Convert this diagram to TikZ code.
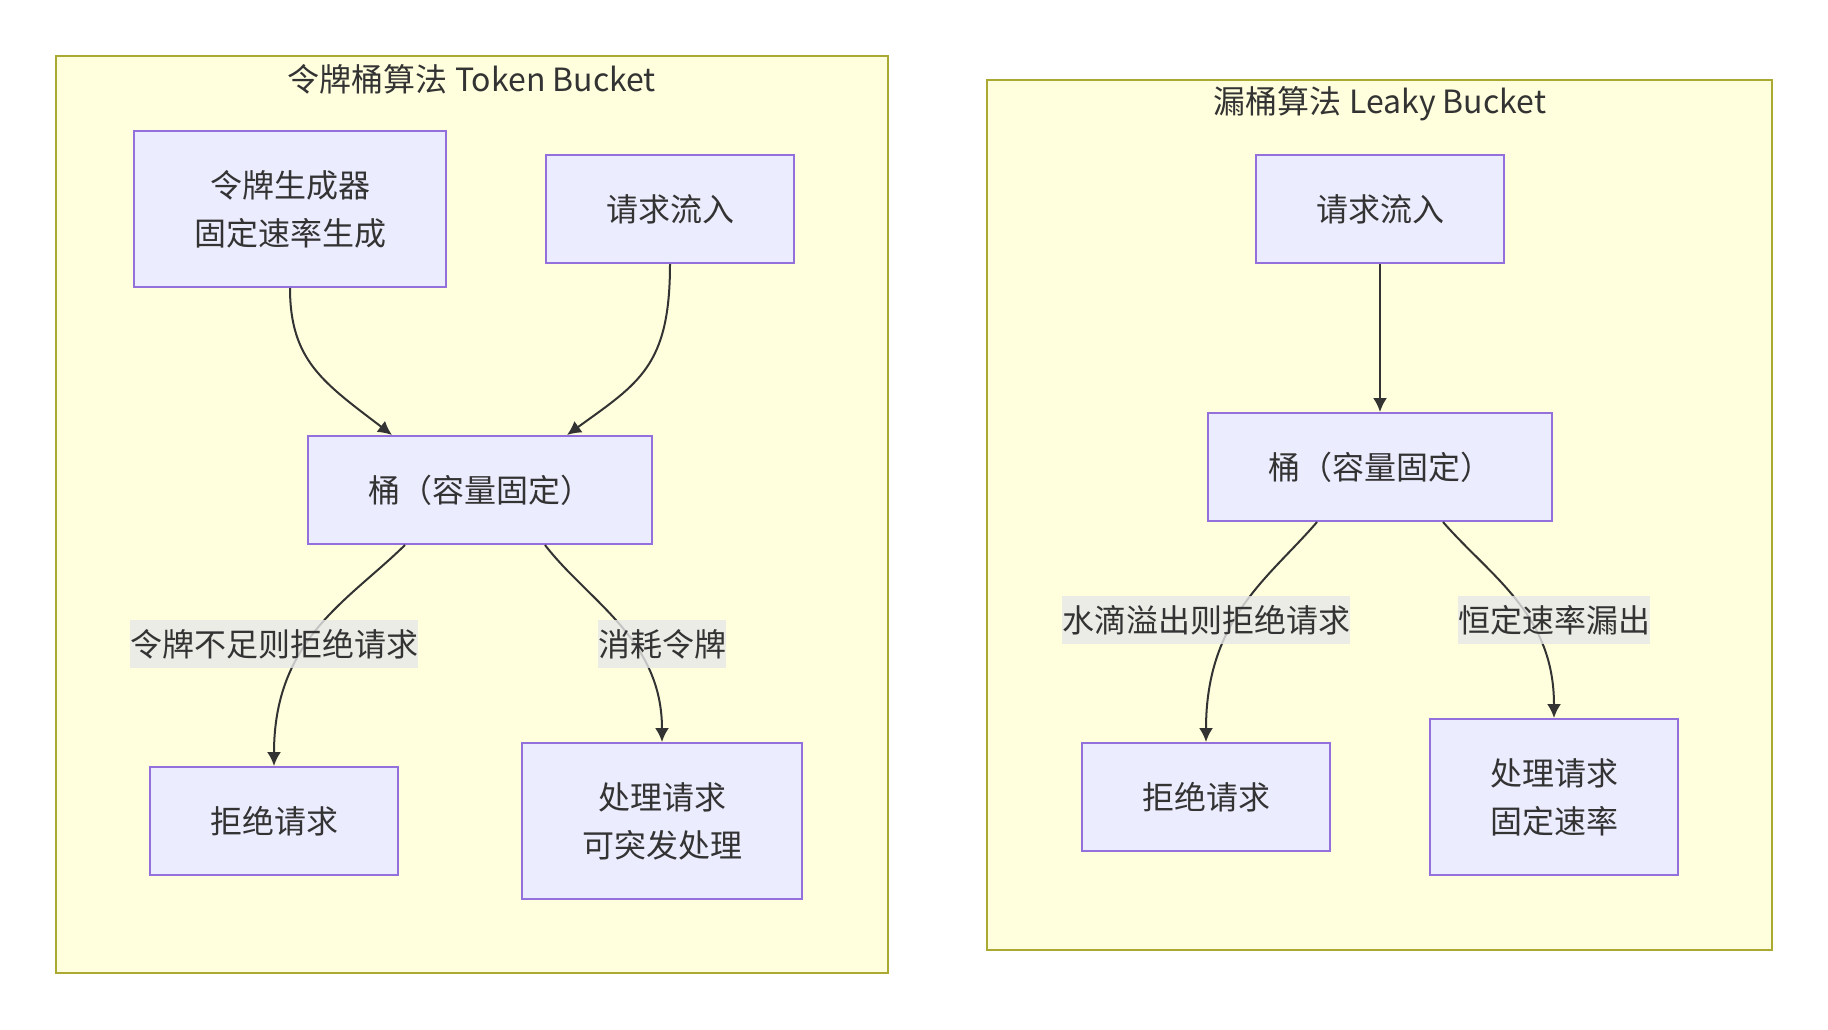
\documentclass[tikz,border=0pt]{standalone}
\usepackage{fontspec}
\usepackage{xcolor}
\usetikzlibrary{arrows.meta}
\newfontfamily\cjk{Noto Sans CJK SC}
\definecolor{clusterFill}{HTML}{FFFFDE}
\definecolor{clusterLine}{HTML}{AAAA33}
\definecolor{nodeFill}{HTML}{ECECFF}
\definecolor{nodeLine}{HTML}{9370DB}
\definecolor{edgeLine}{HTML}{333333}
\definecolor{labelFill}{HTML}{E8E8E8}
\newcommand{\flowArrow}{{Latex[length=14pt, width=14pt]}}

\begin{document}
\begin{tikzpicture}[x=1pt, y=-1pt, font=\cjk\fontsize{32}{48}\selectfont, text=edgeLine,
	cluster/.style={draw=clusterLine, fill=clusterFill, line width=2pt},
	box/.style={draw=nodeLine, fill=nodeFill, line width=2pt, inner xsep=60pt, inner ysep=0pt, minimum height=108pt, align=center},
	tall/.style={minimum height=156pt},
	elabel/.style={fill=labelFill, fill opacity=0.8, text opacity=1, inner sep=0pt, minimum height=48pt},
	flow/.style={draw=edgeLine, line width=2pt}]
	\useasboundingbox (0,0) rectangle (1828,1030);
	
	\draw[cluster]	(56,56) rectangle (888,973);
	\node (tokenTitle)	at (472,79)		{令牌桶算法 Token Bucket};
	\draw[cluster]	(987,80) rectangle (1772,950);
	\node (leakyTitle)	at (1380,104)	{漏桶算法 Leaky Bucket};
	
	\node[box, tall] (gen)		at (290,209)	{令牌生成器\\固定速率生成};
	\node[box] (reqL)			at (670,209)	{请求流入};
	\node[box] (bktL)			at (480,490)	{桶（容量固定）};
	\node[box] (rejL)			at (274,821)	{拒绝请求};
	\node[box, tall] (procL)	at (662,821)	{处理请求\\可突发处理};
	
	\node[box] (reqR)			at (1380,209)	{请求流入};
	\node[box] (bktR)			at (1380,467)	{桶（容量固定）};
	\node[box] (rejR)			at (1206,797)	{拒绝请求};
	\node[box, tall] (procR)	at (1554,797)	{处理请求\\固定速率};
	
	\draw[flow, -\flowArrow]	(gen.south) .. controls +(0,73) and +(-68,-52) .. ([xshift=-88pt]bktL.north);
	\draw[flow, -\flowArrow]	(reqL.south) .. controls +(0,102) and +(72,-52) .. ([xshift=87pt]bktL.north);
	\draw[flow, -\flowArrow]	([xshift=-75pt]bktL.south) .. controls +(-57,56) and +(0,-127) .. (rejL.north);
	\draw[flow, -\flowArrow]	([xshift=65pt]bktL.south) .. controls +(43,56) and +(0,-103) .. (procL.north);
	
	\draw[flow, -\flowArrow]	(reqR.south) -- (bktR.north);
	\draw[flow, -\flowArrow]	([xshift=-63pt]bktR.south) .. controls +(-47,55) and +(0,-124) .. (rejR.north);
	\draw[flow, -\flowArrow]	([xshift=63pt]bktR.south) .. controls +(48,55) and +(0,-104) .. (procR.north);
	
	\node[elabel] (lblDeny)		at (274,644)	{令牌不足则拒绝请求};
	\node[elabel] (lblUse)		at (662,644)	{消耗令牌};
	\node[elabel] (lblOver)		at (1206,620)	{水滴溢出则拒绝请求};
	\node[elabel] (lblLeak)		at (1554,620)	{恒定速率漏出};
\end{tikzpicture}
\end{document}
